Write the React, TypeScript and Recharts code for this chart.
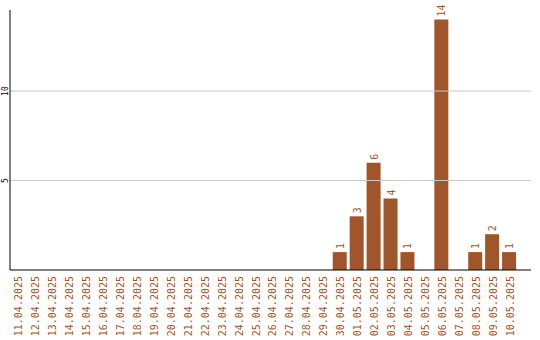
import React from 'react';
import { BarChart, Bar, XAxis, YAxis, ReferenceLine, LabelList } from 'recharts';

const dates = [
  '11.04.2025', '12.04.2025', '13.04.2025', '14.04.2025', '15.04.2025', '16.04.2025',
  '17.04.2025', '18.04.2025', '19.04.2025', '20.04.2025', '21.04.2025', '22.04.2025',
  '23.04.2025', '24.04.2025', '25.04.2025', '26.04.2025', '27.04.2025', '28.04.2025',
  '29.04.2025', '30.04.2025', '01.05.2025', '02.05.2025', '03.05.2025', '04.05.2025',
  '05.05.2025', '06.05.2025', '07.05.2025', '08.05.2025', '09.05.2025', '10.05.2025',
];
const counts = [
  0, 0, 0, 0, 0, 0,
  0, 0, 0, 0, 0, 0,
  0, 0, 0, 0, 0, 0,
  0, 1, 3, 6, 4, 1,
  0, 14, 0, 1, 2, 1,
];
const yTicks = [5, 10];

const BROWN = '#a0562a';
const FONT = '"DejaVu Sans Mono", monospace';

const data = dates.map((d, i) => ({ date: d, count: counts[i] }));

// axis line sits at y=270; labels start just under it
const XTick = (props: any) => {
  const { x, payload } = props;
  const tx = x + 4;
  const ty = 276;
  return (
    <text
      x={tx}
      y={ty}
      transform={`rotate(-90, ${tx}, ${ty})`}
      textAnchor="end"
      fill={BROWN}
      fontSize={10}
      fontFamily={FONT}
    >
      {payload.value}
    </text>
  );
};

const YTick = (props: any) => {
  const { y, payload } = props;
  const x = 8;
  return (
    <text
      x={x}
      y={y}
      transform={`rotate(-90, ${x}, ${y})`}
      textAnchor="middle"
      fill="#000"
      fontSize={8}
      fontFamily={FONT}
    >
      {payload.value}
    </text>
  );
};

const BarLabel = (props: any) => {
  const { x, y, width, value } = props;
  if (!value) return null;
  const cx = x + width / 2 + 4;
  const cy = y - 3;
  return (
    <text
      x={cx}
      y={cy}
      transform={`rotate(-90, ${cx}, ${cy})`}
      textAnchor="start"
      fill={BROWN}
      fontSize={10}
      fontFamily={FONT}
    >
      {value}
    </text>
  );
};

export default function App() {
  return (
    <div style={{ position: 'absolute', left: 0, top: 0, background: '#fff' }}>
      <BarChart
        width={540}
        height={340}
        data={data}
        margin={{ top: 10, right: 9, bottom: 0, left: 0 }}
      >
        {yTicks.map((t) => (
          <ReferenceLine key={t} y={t} stroke="#c8c8c8" ifOverflow="extendDomain" />
        ))}
        <XAxis
          dataKey="date"
          interval={0}
          height={70}
          tickLine={false}
          axisLine={{ stroke: '#000', strokeWidth: 1 }}
          padding={{ left: 0, right: 13 }}
          tick={<XTick />}
        />
        <YAxis
          width={10}
          domain={[0, 14.53]}
          ticks={yTicks}
          tickLine={false}
          axisLine={{ stroke: '#000', strokeWidth: 1 }}
          tick={<YTick />}
        />
        <Bar dataKey="count" fill={BROWN} barSize={14} isAnimationActive={false}>
          <LabelList dataKey="count" content={<BarLabel />} />
        </Bar>
      </BarChart>
    </div>
  );
}
